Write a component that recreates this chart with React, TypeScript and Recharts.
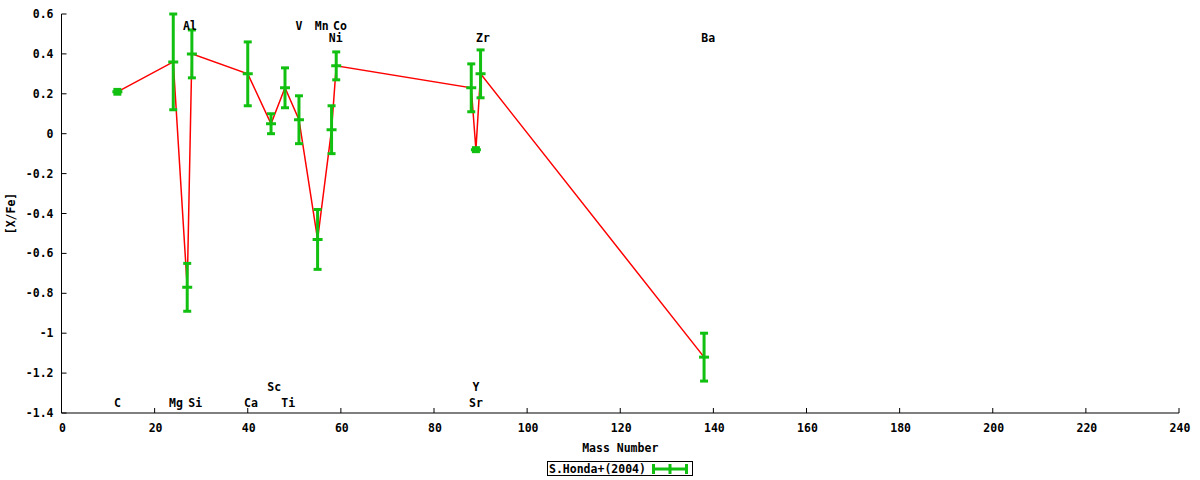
import React from "react";
import {
  ComposedChart,
  Line,
  Scatter,
  ErrorBar,
  XAxis,
  YAxis,
  Label,
} from "recharts";

// abundance ratios, S.Honda+(2004)
const masses = [12, 24, 27, 28, 40, 45, 48, 51, 55, 58, 59, 88, 89, 90, 138];
const ratios = [0.21, 0.36, -0.77, 0.4, 0.3, 0.05, 0.23, 0.07, -0.53, 0.02, 0.34, 0.23, -0.08, 0.3, -1.12];
const errors = [0.012, 0.24, 0.12, 0.12, 0.16, 0.05, 0.1, 0.12, 0.15, 0.12, 0.07, 0.12, 0.01, 0.12, 0.12];

// element name annotations (data coordinates)
const labelNames = ["Al", "V", "Mn", "Co", "Ni", "Zr", "Ba", "Sc", "Y", "C", "Mg", "Si", "Ca", "Ti", "Sr"];
const labelX = [27.6, 51, 55.9, 59.8, 58.9, 90.5, 138.9, 45.7, 89, 12, 24.6, 28.7, 40.7, 48.7, 89];
const labelY = [0.54, 0.54, 0.54, 0.54, 0.48, 0.48, 0.48, -1.27, -1.27, -1.35, -1.35, -1.35, -1.35, -1.35, -1.35];

const xTicks = [0, 20, 40, 60, 80, 100, 120, 140, 160, 180, 200, 220, 240];
const yTicks = [-1.4, -1.2, -1, -0.8, -0.6, -0.4, -0.2, 0, 0.2, 0.4, 0.6];

const points = masses.map((m, i) => ({ mass: m, y: ratios[i], err: errors[i] }));
const elementLabels = labelNames.map((n, i) => ({ name: n, mass: labelX[i], level: labelY[i] }));

const FONT = "'DejaVu Sans Mono', monospace";
const GREEN = "#11c011";
const RED = "#ff0000";
const TICK = 5;

const textStyle = { fontFamily: FONT, fontSize: 11.5, fontWeight: "bold" as const, fill: "#000" };

function BottomTick({ x, y, payload }: any) {
  return (
    <g>
      <line x1={x} y1={y} x2={x} y2={y - TICK} stroke="#000" />
      <text x={x + 1} y={y + 15} textAnchor="middle" dominantBaseline="central" style={textStyle}>
        {payload.value}
      </text>
    </g>
  );
}

function TopTick({ x, y }: any) {
  return <line x1={x} y1={y} x2={x} y2={y + TICK} stroke="#000" />;
}

function LeftTick({ x, y, payload }: any) {
  return (
    <g>
      <line x1={x} y1={y} x2={x + TICK} y2={y} stroke="#000" />
      <text x={x - 8} y={y} textAnchor="end" dominantBaseline="central" style={textStyle}>
        {String(payload.value)}
      </text>
    </g>
  );
}

function RightTick({ x, y }: any) {
  return <line x1={x} y1={y} x2={x - TICK} y2={y} stroke="#000" />;
}

function CenterMark({ cx, cy }: any) {
  return <line x1={cx - 5} y1={cy} x2={cx + 5} y2={cy} stroke={GREEN} strokeWidth={3} />;
}

function ElementText({ cx, cy, payload }: any) {
  return (
    <text x={cx} y={cy} textAnchor="middle" dominantBaseline="central" style={textStyle}>
      {payload.name}
    </text>
  );
}

function LegendBox() {
  return (
    <div
      style={{
        position: "absolute",
        left: 547,
        top: 461,
        width: 144,
        height: 13,
        border: "1px solid #000",
        boxSizing: "content-box",
      }}
    >
      <svg width={144} height={13} style={{ position: "absolute", left: 0, top: 0 }}>
        <text x={1} y={7} dominantBaseline="central" style={textStyle}>
          S.Honda+(2004)
        </text>
        <line x1={104} y1={7} x2={140} y2={7} stroke={GREEN} strokeWidth={3} />
        <line x1={105.5} y1={2} x2={105.5} y2={12} stroke={GREEN} strokeWidth={3} />
        <line x1={138.5} y1={2} x2={138.5} y2={12} stroke={GREEN} strokeWidth={3} />
        <line x1={122} y1={2} x2={122} y2={12} stroke={GREEN} strokeWidth={3} />
      </svg>
    </div>
  );
}

export default function App() {
  return (
    <div style={{ position: "absolute", left: 0, top: 0, width: 1200, height: 480, background: "#fff" }}>
      <ComposedChart
        width={1200}
        height={480}
        data={points}
        margin={{ top: 14, right: 21, bottom: 37, left: 0 }}
      >
        <XAxis
          xAxisId="b"
          dataKey="mass"
          type="number"
          domain={[0, 240]}
          ticks={xTicks}
          allowDataOverflow
          height={30}
          tickSize={0}
          tickMargin={0}
          tickLine={false}
          tick={<BottomTick />}
          interval={0}
          axisLine={{ stroke: "#000" }}
        >
          <Label value="Mass Number" position="bottom" offset={1} style={textStyle} />
        </XAxis>
        <XAxis
          xAxisId="t"
          orientation="top"
          dataKey="mass"
          type="number"
          domain={[0, 240]}
          ticks={xTicks}
          allowDataOverflow
          height={0}
          tickSize={0}
          tickMargin={0}
          tickLine={false}
          tick={<TopTick />}
          interval={0}
          axisLine={{ stroke: "#000" }}
        />
        <YAxis
          yAxisId="l"
          type="number"
          domain={[-1.4, 0.6]}
          ticks={yTicks}
          allowDataOverflow
          width={61.5}
          tickSize={0}
          tickMargin={0}
          tickLine={false}
          tick={<LeftTick />}
          interval={0}
          axisLine={{ stroke: "#000" }}
        >
          <Label
            value="[X/Fe]"
            angle={-90}
            position="insideLeft"
            offset={11}
            style={{ ...textStyle, textAnchor: "middle" }}
          />
        </YAxis>
        <YAxis
          yAxisId="r"
          orientation="right"
          type="number"
          domain={[-1.4, 0.6]}
          ticks={yTicks}
          allowDataOverflow
          width={0}
          tickSize={0}
          tickMargin={0}
          tickLine={false}
          tick={<RightTick />}
          interval={0}
          axisLine={{ stroke: "#000" }}
        />
        <Line
          xAxisId="b"
          yAxisId="l"
          dataKey="y"
          type="linear"
          stroke={RED}
          strokeWidth={1.5}
          dot={false}
          activeDot={false}
          isAnimationActive={false}
        />
        <Scatter
          xAxisId="b"
          yAxisId="l"
          data={points}
          dataKey="y"
          shape={<CenterMark />}
          isAnimationActive={false}
        >
          <ErrorBar dataKey="err" direction="y" width={4} strokeWidth={3} stroke={GREEN} isAnimationActive={false} />
        </Scatter>
        <Scatter
          xAxisId="b"
          yAxisId="l"
          data={elementLabels}
          dataKey="level"
          shape={<ElementText />}
          isAnimationActive={false}
        />
      </ComposedChart>
      <LegendBox />
    </div>
  );
}
